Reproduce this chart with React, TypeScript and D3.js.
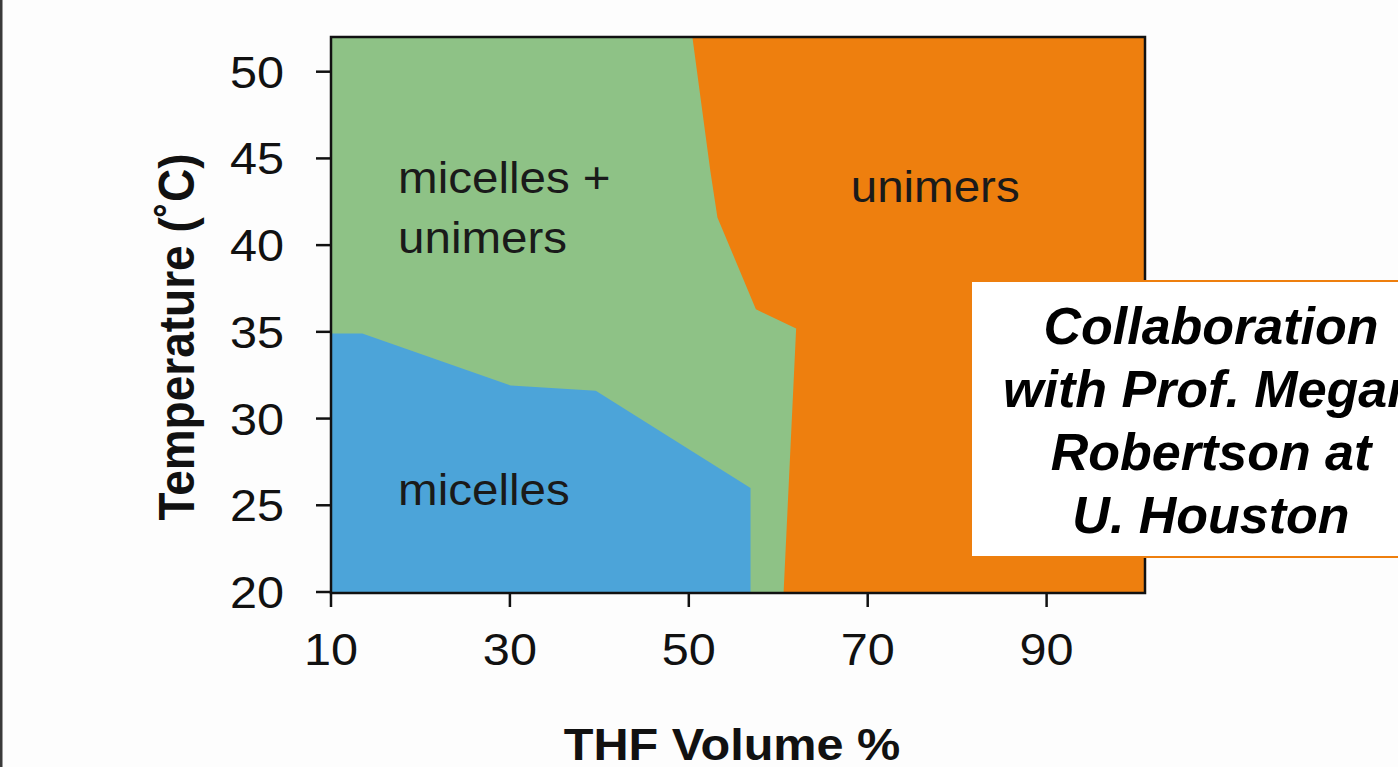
import React, { useRef, useEffect } from 'react'
import * as d3 from 'd3'

// THF volume % ticks and temperature ticks
const thfTicks = [10, 30, 50, 70, 90]
const tempTicks = [20, 25, 30, 35, 40, 45, 50]

// upper edge of the "micelles" region (blue)
const micellesThf = [10, 13.5, 30.1, 39.6, 56.9]
const micellesTemp = [34.9, 34.9, 31.9, 31.6, 26.0]

// left edge of the "unimers" region (orange), bottom to top
const unimersTemp = [20, 35.2, 36.3, 41.6, 44.3, 52]
const unimersThf = [60.6, 62.0, 57.5, 53.2, 52.4, 50.4]

const regionLabels = [
  { lines: ['micelles +', 'unimers'], thf: 17.5, temp: 43.0 },
  { lines: ['micelles'], thf: 17.5, temp: 25.0 },
  { lines: ['unimers'], thf: 68.1, temp: 42.5 },
]

const noteLines = ['Collaboration', 'with Prof. Megan', 'Robertson at', 'U. Houston']

const W = 1398
const H = 767
const font = '"Liberation Sans", Arial, Helvetica, sans-serif'
const stretch = 1.08

const App = () => {
  const svgRef = useRef<SVGSVGElement>(null)

  useEffect(() => {
    const svg = d3.select(svgRef.current)
    svg.selectAll('*').remove()

    const x = d3.scaleLinear().domain([10, 101]).range([331, 1145])
    const y = d3.scaleLinear().domain([20, 52]).range([592, 37])
    const [x0, x1] = x.range()
    const [yb, yt] = y.range()

    // left page edge
    svg.append('rect').attr('x', 0).attr('y', 0).attr('width', 2.5).attr('height', H).attr('fill', '#3a3a3a')

    // background phase (micelles + unimers)
    svg.append('rect')
      .attr('x', x0).attr('y', yt)
      .attr('width', x1 - x0).attr('height', yb - yt)
      .attr('fill', '#8ec286')

    const micelles = micellesThf.map((v, i) => ({ thf: v, t: micellesTemp[i] }))
    const blueArea = d3.area<{ thf: number; t: number }>()
      .x(d => x(d.thf))
      .y0(y(20))
      .y1(d => y(d.t))
    svg.append('path').attr('d', blueArea(micelles)).attr('fill', '#4ca4d9')

    const unimers = unimersTemp.map((t, i) => ({ thf: unimersThf[i], t }))
    const orangeArea = d3.area<{ thf: number; t: number }>()
      .y(d => y(d.t))
      .x0(d => x(d.thf))
      .x1(x(101))
    svg.append('path').attr('d', orangeArea(unimers)).attr('fill', '#ee7f0e')

    // region labels
    regionLabels.forEach(lab => {
      lab.lines.forEach((ln, i) => {
        svg.append('text')
          .attr('transform', `translate(${x(lab.thf)},${y(lab.temp) + i * 60}) scale(${stretch},1)`)
          .attr('font-family', font)
          .attr('font-size', 44)
          .attr('fill', '#1a1a1a')
          .text(ln)
      })
    })

    // frame
    svg.append('rect')
      .attr('x', x0).attr('y', yt)
      .attr('width', x1 - x0).attr('height', yb - yt + 1)
      .attr('fill', 'none').attr('stroke', '#111').attr('stroke-width', 2.5)

    // y axis
    const yAxis = svg.append('g')
    tempTicks.forEach(t => {
      yAxis.append('line')
        .attr('x1', x0 - 15).attr('x2', x0)
        .attr('y1', y(t)).attr('y2', y(t))
        .attr('stroke', '#111').attr('stroke-width', 2.5)
      yAxis.append('text')
        .attr('transform', `translate(284,${y(t) + 16}) scale(${stretch},1)`)
        .attr('text-anchor', 'end')
        .attr('font-family', font)
        .attr('font-size', 45)
        .attr('fill', '#111')
        .text(t)
    })

    // x axis
    const xAxis = svg.append('g')
    thfTicks.forEach(v => {
      xAxis.append('line')
        .attr('x1', x(v)).attr('x2', x(v))
        .attr('y1', yb + 1).attr('y2', yb + 15)
        .attr('stroke', '#111').attr('stroke-width', 2.5)
      xAxis.append('text')
        .attr('transform', `translate(${x(v)},665) scale(${stretch},1)`)
        .attr('text-anchor', 'middle')
        .attr('font-family', font)
        .attr('font-size', 45)
        .attr('fill', '#111')
        .text(v)
    })

    // axis titles
    svg.append('text')
      .attr('transform', `translate(194,337) rotate(-90) scale(1,${stretch})`)
      .attr('text-anchor', 'middle')
      .attr('font-family', font)
      .attr('font-weight', 'bold')
      .attr('font-size', 46)
      .attr('fill', '#111')
      .text('Temperature (˚C)')

    svg.append('text')
      .attr('transform', `translate(732,760) scale(${stretch},1)`)
      .attr('text-anchor', 'middle')
      .attr('font-family', font)
      .attr('font-weight', 'bold')
      .attr('font-size', 45)
      .attr('fill', '#111')
      .text('THF Volume %')

    // collaboration note
    svg.append('rect')
      .attr('x', 971).attr('y', 281)
      .attr('width', 480).attr('height', 276)
      .attr('fill', '#fff').attr('stroke', '#ee7f0e').attr('stroke-width', 2)
    noteLines.forEach((ln, i) => {
      svg.append('text')
        .attr('x', 1211).attr('y', 344 + i * 63)
        .attr('text-anchor', 'middle')
        .attr('font-family', font)
        .attr('font-weight', 'bold')
        .attr('font-style', 'italic')
        .attr('font-size', 52)
        .attr('fill', '#000')
        .text(ln)
    })
  }, [])

  return (
    <svg
      ref={svgRef}
      width={W}
      height={H}
      style={{ position: 'absolute', left: 0, top: 0, background: '#fdfdfd' }}
    />
  )
}

export default App
